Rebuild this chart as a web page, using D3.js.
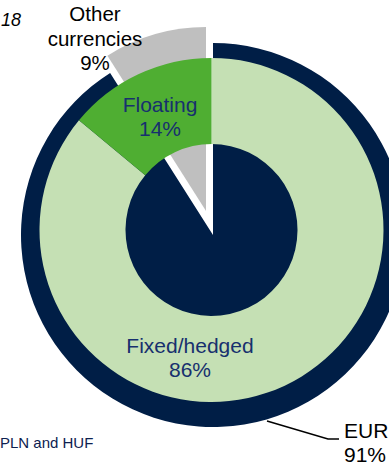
<!DOCTYPE html>
<html>
<head>
<meta charset="utf-8">
<script src="https://cdn.jsdelivr.net/npm/d3@7"></script>
<style>
  html, body { margin: 0; padding: 0; background: #fff; }
  svg { display: block; font-family: "Liberation Sans", Arial, sans-serif; }
</style>
</head>
<body>
<svg id="chart" width="389" height="466"></svg>
<script>
// Outer pie: currency split
const currencyLabels = ["EUR", "Other currencies"];
const currencyValues = [91, 9];
// Inner donut: interest rate split
const rateLabels = ["Fixed/hedged", "Floating"];
const rateValues = [86, 14];

const svg = d3.select("#chart");
const navy = "#001e46", grey = "#bfbfbf", lightGreen = "#c5e0b4", midGreen = "#4fae32", labelNavy = "#17306e";

// Outer currency pie
const cOuter = { x: 213, y: 235 };
const pieC = d3.pie().sort(null).value(d => d)(currencyValues);
const currencyColor = d3.scaleOrdinal().domain(currencyLabels).range([navy, grey]);
const radiusC = d3.scaleOrdinal().domain(currencyLabels).range([192, 184]);
const explode = d3.scaleOrdinal().domain(currencyLabels).range([0, 25]);

const gC = svg.append("g").attr("transform", `translate(${cOuter.x},${cOuter.y})`);
gC.selectAll("path").data(pieC).join("path")
  .attr("d", (d, i) => d3.arc().innerRadius(0).outerRadius(radiusC(currencyLabels[i]))(d))
  .attr("fill", (d, i) => currencyColor(currencyLabels[i]))
  .attr("transform", (d, i) => {
    const a = (d.startAngle + d.endAngle) / 2, o = explode(currencyLabels[i]);
    return `translate(${o * Math.sin(a)},${-o * Math.cos(a)})`;
  });

// Inner rate donut
const cInner = { x: 211.5, y: 230 };
const pieR = d3.pie().sort(null).value(d => d)(rateValues);
const rateColor = d3.scaleOrdinal().domain(rateLabels).range([lightGreen, midGreen]);
const arcR = d3.arc().innerRadius(86).outerRadius(172);
const gR = svg.append("g").attr("transform", `translate(${cInner.x},${cInner.y})`);
gR.selectAll("path").data(pieR).join("path")
  .attr("d", arcR)
  .attr("fill", (d, i) => rateColor(rateLabels[i]));

// Labels
function twoLine(x, y, l1, l2, color, anchor) {
  const t = svg.append("text").attr("x", x).attr("y", y).attr("fill", color)
    .attr("font-size", 21).attr("text-anchor", anchor || "middle");
  t.append("tspan").attr("x", x).text(l1);
  t.append("tspan").attr("x", x).attr("dy", 24).text(l2);
  return t;
}
twoLine(160, 112, rateLabels[1], rateValues[1] + "%", labelNavy);
twoLine(190, 353, rateLabels[0], rateValues[0] + "%", labelNavy);

// Other currencies label (3 lines)
const tO = svg.append("text").attr("x", 95).attr("y", 21).attr("fill", "#000")
  .attr("font-size", 20.5).attr("text-anchor", "middle");
tO.append("tspan").attr("x", 95).text("Other");
tO.append("tspan").attr("x", 95).attr("dy", 24.5).text("currencies");
tO.append("tspan").attr("x", 95).attr("dy", 24.5).text(currencyValues[1] + "%");

// EUR label with leader
svg.append("polyline")
  .attr("points", "267,421 328,439 339,439")
  .attr("fill", "none").attr("stroke", "#000").attr("stroke-width", 1.5);
twoLine(344, 438, currencyLabels[0], currencyValues[0] + "%", "#000", "start");

// Cut-off title and footnote fragments
svg.append("text").attr("x", 1).attr("y", 26).attr("font-size", 18)
  .attr("font-style", "italic").attr("fill", "#000").text("18");
svg.append("text").attr("x", 0).attr("y", 448).attr("font-size", 15)
  .attr("fill", "#0d2150").text("PLN and HUF");
</script>
</body>
</html>
